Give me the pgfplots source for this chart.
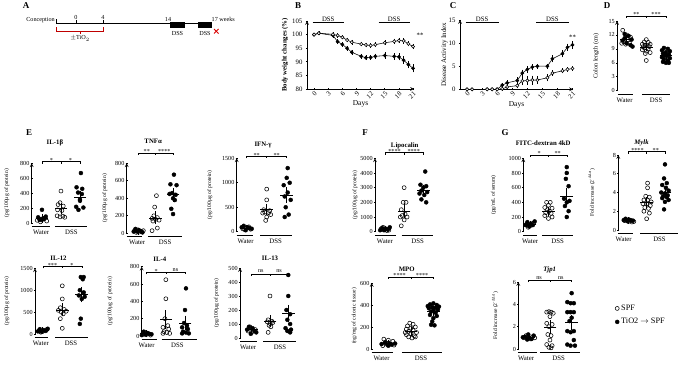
\documentclass[border=0pt]{standalone}
\usepackage{fontspec}
\setmainfont{Liberation Serif}
\usepackage{pgfplots}
\pgfplotsset{compat=1.18}
\newcommand{\Tkf}{\fontsize{6.2}{7}\selectfont}
\newcommand{\Tkb}{\fontsize{6.8}{7.5}\selectfont}
\newcommand{\Lbf}{\fontsize{6.8}{7.5}\selectfont}
\newcommand{\Tif}{\bfseries\fontsize{6.8}{7.5}\selectfont}
\newcommand{\Ylf}{\fontsize{5.6}{6.5}\selectfont}
\newcommand{\Ltf}{\bfseries\fontsize{9}{10}\selectfont}
\newcommand{\Taf}{\fontsize{6.2}{7}\selectfont}
\newcommand{\sg}[1]{\raisebox{-1.8pt}{#1}}
\newcommand{\brk}[3]{%
  \draw[line width=0.5pt] ([yshift=-1.8pt]axis cs:1,#1) -- (axis cs:1,#1) -- (axis cs:3,#1) -- ([yshift=-1.8pt]axis cs:3,#1);
  \draw[line width=0.5pt] (axis cs:2,#1) -- ([yshift=-1.8pt]axis cs:2,#1);
  \node[font=\Tkf, anchor=base, inner sep=0pt] at ([yshift=1.3pt]axis cs:1.5,#1) {#2};
  \node[font=\Tkf, anchor=base, inner sep=0pt] at ([yshift=1.3pt]axis cs:2.5,#1) {#3};}
\newcommand{\grp}[6]{%
  \draw[line width=1pt] ([yshift=-3.5pt]axis cs:#1,0) -- ([yshift=-3.5pt]axis cs:#2,0);
  \draw[line width=1pt] ([yshift=-3.5pt]axis cs:#3,0) -- ([yshift=-3.5pt]axis cs:#4,0);
  \node[font=\Lbf, inner sep=0pt] at ([yshift=-9.5pt]axis cs:#5,0) {Water};
  \node[font=\Lbf, inner sep=0pt] at ([yshift=-9.5pt]axis cs:#6,0) {DSS};}
\newcommand{\ttl}[3]{\node[font=\Tif, inner sep=0pt] at ([yshift=#2]rel axis cs:#1,1) {#3};}
\newcommand{\yl}[2]{\node[rotate=90, font=\Ylf, inner sep=0pt] at ([xshift=-#1]rel axis cs:0,0.5) {#2};}
\pgfplotsset{
 base/.style={scale only axis, clip=false, tick align=outside, major tick length=2.2pt,
   /pgf/number format/assume math mode=true, /pgf/number format/1000 sep={},
   scaled y ticks=false, scaled x ticks=false, tick style={black, line width=0.6pt},
   axis line style={-, line width=0.7pt}, anchor=south west},
 dot/.style={base, axis y line=left, axis x line=none, xtick=\empty, ymin=0,
   yticklabel style={font=\Tkf, inner sep=1pt}},
 spf/.style={only marks, mark=o, mark size=2pt, mark options={black, line width=0.55pt}, forget plot},
 tio/.style={only marks, mark=*, mark size=2pt, mark options={black}, forget plot},
 mn/.style={only marks, mark=-, mark size=6.3pt, mark options={line width=0.7pt}, black, forget plot,
   error bars/.cd, y dir=both, y explicit, error bar style={line width=0.7pt},
   error mark options={mark size=3pt, line width=0.7pt}},
}
\begin{document}
\begin{tikzpicture}
\useasboundingbox (0,0) rectangle (685bp,368bp);
% ---------------- overlay: letters and panel A timeline
\begin{axis}[scale only axis, width=685bp, height=368bp, at={(0,0)}, anchor=south west,
  xmin=0, xmax=685, ymin=0, ymax=368, y dir=reverse, hide axis, clip=false]
\addplot[draw=none, forget plot] coordinates {(0,0) (685,368)};
\node[font=\Ltf] at (axis cs:26,6) {A};
\node[font=\Ltf] at (axis cs:298,6) {B};
\node[font=\Ltf] at (axis cs:453,6) {C};
\node[font=\Ltf] at (axis cs:607,6) {D};
\node[font=\Ltf] at (axis cs:29,133) {E};
\node[font=\Ltf] at (axis cs:365,133) {F};
\node[font=\Ltf] at (axis cs:505,133) {G};
\draw[line width=0.55pt] (axis cs:56,23) -- (axis cs:212,23);
\fill (axis cs:170,22.3) rectangle (axis cs:185,28.3);
\fill (axis cs:198,22.3) rectangle (axis cs:212,28.3);
\draw[line width=0.55pt] (axis cs:56,19.5) -- (axis cs:56,23);
\draw[line width=0.55pt] (axis cs:76,20) -- (axis cs:76,23);
\draw[line width=0.55pt] (axis cs:103,20) -- (axis cs:103,23);
\node[font=\Taf, anchor=east, inner sep=1pt] at (axis cs:56,20.5) {Conception};
\node[font=\Taf, anchor=south, inner sep=0.5pt] at (axis cs:76,20) {0};
\node[font=\Taf, anchor=south, inner sep=0.5pt] at (axis cs:103,20) {4};
\node[font=\Taf, anchor=south, inner sep=0.5pt] at (axis cs:168,22) {14};
\node[font=\Taf, anchor=south west, inner sep=0.5pt] at (axis cs:211,22) {17 weeks};
\node[font=\Taf] at (axis cs:177.5,33) {DSS};
\node[font=\Taf] at (axis cs:205,33) {DSS};
\draw[red!75!black, line width=0.55pt] (axis cs:56,27.5) -- (axis cs:56,31.7) -- (axis cs:103,31.7) -- (axis cs:103,27.5);
\draw[red!75!black, line width=0.55pt] (axis cs:80,31.7) -- (axis cs:80,34);
\node[font=\Taf] at (axis cs:80,38.5) {$\pm$TiO$_2$};
\draw[red!85!black, line width=0.8pt] (axis cs:214,29) -- (axis cs:218.5,33.5);
\draw[red!85!black, line width=0.8pt] (axis cs:214,33.5) -- (axis cs:218.5,29);
\end{axis}
% ---------------- B
\begin{axis}[base, axis lines=left, at={(307bp,279bp)}, width=107bp, height=68bp,
  xmin=-1.5, xmax=21.2, ymin=80, ymax=105, xtick={0,3,...,21}, ytick={80,85,...,105},
  tick label style={font=\Tkb}, xticklabel style={rotate=45, anchor=north east, inner sep=0.5pt},
  xlabel={Days}, xlabel style={font=\fontsize{7.5}{8}\selectfont, inner sep=1pt}]
\addplot[black, line width=0.55pt, mark=*, mark size=1.6pt,
  error bars/.cd, y dir=both, y explicit, error bar style={line width=0.45pt}, error mark options={mark size=1.3pt, line width=0.45pt}]
  table[x=d, y=v, y error=e] {
d v e
0 100 0.2
1 100.5 0.2
4 99.7 0.3
5 97.4 0.4
6 96.4 0.4
7 95.0 0.4
8 93.5 0.4
10 92.0 0.4
11 91.5 0.4
12 91.6 0.4
13 92.0 0.5
15 92.3 0.7
17 92.0 0.7
18 91.8 0.8
19 90.6 0.9
20 89.0 0.9
21 87.6 1.0
};
\addplot[black, line width=0.55pt, mark=*, mark size=1.6pt, mark options={fill=white},
  error bars/.cd, y dir=both, y explicit, error bar style={line width=0.45pt}, error mark options={mark size=1.3pt, line width=0.45pt}]
  table[x=d, y=v, y error=e] {
d v e
0 100 0.2
1 100.5 0.2
4 100.1 0.3
5 99.7 0.3
6 99.0 0.3
7 98.0 0.4
8 97.2 0.4
10 96.5 0.4
11 96.2 0.4
12 96.0 0.4
13 96.3 0.4
15 97.0 0.4
17 97.5 0.5
18 97.8 0.5
19 97.7 0.5
20 96.6 0.5
21 95.6 0.5
};
\draw[line width=1pt] (axis cs:-0.3,104.4) -- (axis cs:6.3,104.4);
\draw[line width=1pt] (axis cs:13.7,104.4) -- (axis cs:20.3,104.4);
\node[font=\Tkb, anchor=south, inner sep=0.5pt] at (axis cs:3,104.4) {DSS};
\node[font=\Tkb, anchor=south, inner sep=0.5pt] at (axis cs:17,104.4) {DSS};
\node[font=\Tkb] at (axis cs:22.5,99.6) {**};
\node[rotate=90, font=\bfseries\fontsize{6.8}{7}\selectfont] at ([xshift=-22pt]rel axis cs:0,0.5) {Body weight changes (\%)};
\end{axis}
% ---------------- C
\begin{axis}[base, axis lines=left, at={(460bp,278.7bp)}, width=113bp, height=69.3bp,
  xmin=-1.4, xmax=21.1, ymin=0, ymax=15, xtick={0,3,...,21}, ytick={0,5,10,15},
  tick label style={font=\Tkb}, xticklabel style={rotate=45, anchor=north east, inner sep=0.5pt},
  xlabel={Days}, xlabel style={font=\fontsize{7.5}{8}\selectfont, inner sep=1pt}]
\addplot[black, line width=0.55pt, mark=*, mark size=1.6pt,
  error bars/.cd, y dir=both, y explicit, error bar style={line width=0.45pt}, error mark options={mark size=1.3pt, line width=0.45pt}]
  table[x=d, y=v, y error=e] {
d v e
0 0 0
1 0 0
4 0 0
5 0 0
6 0 0
7 0.9 0.2
8 1.4 0.3
10 1.9 0.4
11 3.5 0.5
12 4.3 0.4
13 4.8 0.3
14 5.0 0.3
16 5.0 0.3
17 6.6 0.5
19 7.7 0.5
20 9.1 0.5
21 9.6 0.5
};
\addplot[black, line width=0.55pt, mark=*, mark size=1.6pt, mark options={fill=white},
  error bars/.cd, y dir=both, y explicit, error bar style={line width=0.45pt}, error mark options={mark size=1.3pt, line width=0.45pt}]
  table[x=d, y=v, y error=e] {
d v e
0 0 0
1 0 0
4 0 0
5 0 0
6 0 0
7 0.1 0.1
8 0.5 0.2
10 0.8 0.3
11 1.8 0.6
12 1.9 0.7
13 2.0 0.7
14 2.0 0.6
16 2.5 0.5
17 3.5 0.3
19 4.0 0.3
20 4.3 0.2
21 4.5 0.2
};
\draw[line width=1pt] (axis cs:-0.3,14.5) -- (axis cs:6.4,14.5);
\draw[line width=1pt] (axis cs:13.8,14.5) -- (axis cs:20.4,14.5);
\node[font=\Tkb, anchor=south, inner sep=0.5pt] at (axis cs:3,14.5) {DSS};
\node[font=\Tkb, anchor=south, inner sep=0.5pt] at (axis cs:17,14.5) {DSS};
\node[font=\Tkb] at (axis cs:21,11.3) {**};
\node[rotate=90, font=\fontsize{7}{7.5}\selectfont] at ([xshift=-15.5pt]rel axis cs:0,0.5) {Disease Activity Index};
\end{axis}
% ---------------- D
\begin{axis}[dot, at={(617bp,277.3bp)}, width=54.8bp, height=69.7bp, xmin=0.51, xmax=3.3, ymax=15, ytick={0,3,...,15}]
\addplot[spf] coordinates {(0.8,13) (1.0,12) (1.2,11.5) (0.85,10.5) (1.15,10.2) (0.95,10) (1.05,11) (0.75,10.2)};
\addplot[tio] coordinates {(0.9,12.2) (1.1,11.8) (1.25,11) (0.8,10.8) (1.0,10.2) (1.2,9.8) (1.3,9.5) (0.9,11.3)};
\addplot[spf] coordinates {(2.0,11) (1.9,10.5) (2.1,10.4) (1.8,10) (2.2,10) (1.95,9.8) (2.05,9.7) (1.85,9.5) (2.15,9.5) (1.9,9.2) (2.1,9.0) (1.8,8.8) (2.0,8.5) (2.2,8.2) (1.95,8.0) (2.0,6.5)};
\addplot[tio] coordinates {(2.9,9.2) (3.1,9.0) (2.8,8.7) (3.2,8.5) (3.0,8.3) (2.85,8.0) (3.15,7.8) (2.95,7.6) (3.05,7.5) (2.8,7.2) (3.2,7.0) (2.9,6.8) (3.1,6.5) (2.85,6.2) (3.15,6.0) (3.0,6.0)};
\addplot[mn] coordinates {(1,11) +- (0,0.3) (2,9.4) +- (0,0.25) (3,7.5) +- (0,0.25)};
\brk{16.1}{\sg{**}}{\sg{***}}
\grp{0.56}{1.32}{1.78}{3.2}{0.9}{2.5}
\node[rotate=90, font=\fontsize{6.2}{7}\selectfont] at ([xshift=-21pt]rel axis cs:0,0.5) {Colon length (cm)};
\end{axis}
% ---------------- IL-1b
\begin{axis}[dot, at={(31.7bp,144.7bp)}, width=55.3bp, height=60bp, xmin=0.46, xmax=3.37, ymax=800, ytick={0,200,...,800}]
\addplot[spf] coordinates {(0.85,60) (1.0,50) (1.15,70) (0.75,40) (1.25,30) (0.92,20)};
\addplot[tio] coordinates {(1.0,180) (0.8,80) (1.2,90) (1.05,65) (0.9,45) (1.1,55)};
\addplot[spf] coordinates {(2.0,430) (1.95,275) (1.85,250) (2.12,230) (1.82,180) (2.05,170) (1.8,100) (1.95,85) (2.1,95) (2.2,80)};
\addplot[tio] coordinates {(3.05,670) (2.82,480) (3.12,460) (2.9,410) (3.1,390) (3.0,320) (2.8,220) (3.18,210) (2.92,180) (3.0,300)};
\addplot[mn] coordinates {(1,65) +- (0,15) (2,200) +- (0,35) (3,350) +- (0,45)};
\brk{821}{\sg{*}}{\sg{*}}
\grp{0.47}{1.42}{1.68}{3.37}{0.95}{2.55}
\ttl{0.42}{20.6pt}{IL-1β}
\yl{25pt}{(pg/100µg of protein)}
\end{axis}
% ---------------- TNFa
\begin{axis}[dot, at={(126.7bp,134.7bp)}, width=55.1bp, height=70bp, xmin=0.35, xmax=3.5, ymax=800, ytick={0,200,...,800}]
\addplot[spf] coordinates {(0.8,30) (1.0,40) (1.2,20) (0.9,10) (1.1,15) (1.3,30)};
\addplot[tio] coordinates {(0.85,50) (1.05,35) (1.15,25) (0.95,20) (1.25,10) (0.75,20)};
\addplot[spf] coordinates {(2.05,430) (1.95,300) (1.9,200) (2.1,180) (1.8,170) (2.0,160) (2.2,150) (1.85,140) (2.1,60) (1.8,30)};
\addplot[tio] coordinates {(3.05,670) (2.85,560) (3.2,550) (2.95,460) (3.15,440) (2.8,450) (3.0,400) (3.1,380) (2.9,280) (3.0,220)};
\addplot[mn] coordinates {(1,25) +- (0,5) (2,175) +- (0,40) (3,440) +- (0,45)};
\brk{914}{\sg{**}}{\sg{****}}
\grp{0.36}{1.2}{1.57}{3.5}{0.95}{2.55}
\ttl{0.48}{21.6pt}{TNFα}
\yl{22pt}{(pg/100µg of protein)}
\end{axis}
% ---------------- IFN-g
\begin{axis}[dot, at={(236.7bp,136.3bp)}, width=55bp, height=73.4bp, xmin=0.5, xmax=3.25, ymax=1500, ytick={0,500,1000,1500}]
\addplot[spf] coordinates {(0.8,60) (1.0,80) (1.2,50) (0.9,40) (1.1,100)};
\addplot[tio] coordinates {(0.85,120) (1.05,90) (1.15,70) (0.95,30) (1.25,60) (0.75,90)};
\addplot[spf] coordinates {(2.0,870) (2.0,650) (1.85,450) (2.15,430) (1.9,400) (2.1,390) (1.8,380) (2.2,350) (2.0,300) (1.95,230)};
\addplot[tio] coordinates {(3.05,1300) (3.0,1100) (3.15,1000) (2.85,950) (3.05,800) (2.9,720) (3.2,650) (2.95,500) (3.1,350) (2.9,300)};
\addplot[mn] coordinates {(1,75) +- (0,10) (2,450) +- (0,55) (3,750) +- (0,100)};
\brk{1533}{\sg{**}}{\sg{**}}
\grp{0.5}{1.33}{1.67}{3.25}{0.95}{2.45}
\ttl{0.48}{13.3pt}{IFN-γ}
\yl{27pt}{(pg/100µg of protein)}
\end{axis}
% ---------------- Lipocalin
\begin{axis}[dot, at={(375bp,136.3bp)}, width=58.3bp, height=73.4bp, xmin=0.48, xmax=3.52, ymax=5000, ytick={0,1000,...,5000}]
\addplot[spf] coordinates {(0.8,200) (1.0,150) (1.2,100) (0.9,300) (1.1,80)};
\addplot[tio] coordinates {(0.85,250) (1.05,200) (1.15,150) (0.95,100) (1.25,300) (0.75,100)};
\addplot[spf] coordinates {(2.0,3000) (1.95,2000) (2.1,2000) (1.85,1500) (2.05,1200) (1.9,1100) (2.15,1000) (1.8,1000) (2.0,800) (1.85,400)};
\addplot[tio] coordinates {(3.1,4100) (2.85,3200) (3.15,3100) (3.0,3000) (2.9,2800) (3.2,2700) (2.8,2600) (3.05,2500) (2.9,2200) (3.15,2000)};
\addplot[mn] coordinates {(1,180) +- (0,25) (2,1400) +- (0,250) (3,2800) +- (0,200)};
\brk{5380}{\sg{****}}{\sg{****}}
\grp{0.48}{1.6}{1.87}{3.52}{1.0}{2.7}
\ttl{0.51}{12.3pt}{Lipocalin}
\yl{20pt}{(pg/100µg of protein)}
\end{axis}
% ---------------- FITC
\begin{axis}[dot, at={(523.3bp,136.3bp)}, width=49.7bp, height=73.4bp, xmin=0.63, xmax=3.34, ymax=1000, ytick={0,200,...,1000}]
\addplot[spf] coordinates {(0.8,100) (1.0,80) (1.2,120) (0.9,60)};
\addplot[tio] coordinates {(0.85,130) (1.05,110) (1.15,90) (0.95,70) (1.25,140) (0.75,90)};
\addplot[spf] coordinates {(1.9,400) (2.1,400) (2.0,360) (1.8,330) (2.2,320) (1.95,300) (2.05,280) (1.85,260) (2.15,250) (1.8,220) (2.2,200) (2.0,180)};
\addplot[tio] coordinates {(3.0,880) (3.0,800) (2.95,720) (3.1,620) (2.85,450) (3.15,420) (3.0,400) (2.9,350) (3.1,280) (3.0,200)};
\addplot[mn] coordinates {(1,100) +- (0,10) (2,280) +- (0,20) (3,480) +- (0,70)};
\brk{1045}{\sg{*}}{\sg{**}}
\grp{0.63}{1.37}{1.64}{3.34}{1.0}{2.5}
\ttl{0.4}{15pt}{FITC-dextran 4kD}
\yl{30pt}{(pg/mL of serum)}
\end{axis}
% ---------------- Mylk
\begin{axis}[dot, at={(618.3bp,138bp)}, width=59.5bp, height=75bp, xmin=0.455, xmax=3.7, ymax=8, ytick={0,2,...,8}]
\addplot[spf] coordinates {(0.8,1.0) (1.0,0.9) (1.2,0.85) (0.9,1.1) (1.1,1.05) (1.3,0.9)};
\addplot[tio] coordinates {(0.85,1.2) (1.05,1.1) (1.15,1.0) (0.95,0.95) (1.25,1.0) (0.75,1.05)};
\addplot[spf] coordinates {(2.05,5.0) (2.05,4.5) (1.95,3.6) (2.15,3.5) (1.85,3.2) (2.05,3.2) (2.25,3.0) (1.8,2.8) (2.0,2.8) (2.2,2.6) (1.9,2.4) (2.1,2.3) (1.85,2.0) (2.15,1.8) (2.0,1.2)};
\addplot[tio] coordinates {(3.0,7.0) (2.95,5.5) (3.1,5.0) (2.85,4.8) (3.05,4.5) (3.2,4.2) (2.8,4.0) (3.0,3.9) (3.15,3.7) (2.9,3.6) (3.1,3.5) (2.85,3.4) (3.2,3.2) (3.0,3.0) (2.95,2.2)};
\addplot[mn] coordinates {(1,1.0) +- (0,0.05) (2,2.9) +- (0,0.25) (3,4.0) +- (0,0.3)};
\brk{8.35}{\sg{****}}{\sg{**}}
\grp{0.46}{1.26}{1.64}{3.7}{0.75}{2.7}
\ttl{0.39}{11.7pt}{\itshape Mylk}
\yl{26.6pt}{Fold increase (2\textsuperscript{-ΔΔct})}
\end{axis}
% ---------------- IL-12
\begin{axis}[dot, at={(35bp,34bp)}, width=53.4bp, height=65.7bp, xmin=0.6, xmax=3.34, ymax=1500, ytick={0,500,1000,1500}]
\addplot[spf] coordinates {(0.8,80) (1.0,60) (1.2,100) (0.9,40)};
\addplot[tio] coordinates {(0.85,110) (1.05,90) (1.15,70) (0.95,50) (1.25,120) (0.75,60)};
\addplot[spf] coordinates {(2.0,1100) (2.0,800) (1.9,600) (2.1,560) (1.8,540) (2.2,520) (1.95,500) (2.05,460) (1.9,350) (2.0,130)};
\addplot[tio] coordinates {(2.95,1300) (3.1,1300) (3.05,1250) (2.9,1000) (3.1,950) (2.85,880) (3.15,850) (3.0,800) (2.95,350) (2.9,230)};
\addplot[mn] coordinates {(1,80) +- (0,10) (2,550) +- (0,80) (3,900) +- (0,110)};
\brk{1537}{\sg{***}}{\sg{*}}
\grp{0.6}{1.29}{1.63}{3.34}{0.9}{2.45}
\ttl{0.44}{10.5pt}{IL-12}
\yl{28.3pt}{(pg/100µg of protein)}
\end{axis}
% ---------------- IL-4
\begin{axis}[dot, at={(141.7bp,32bp)}, width=55bp, height=69.3bp, xmin=0.74, xmax=3.61, ymax=800, ytick={0,200,...,800}]
\addplot[spf] coordinates {(0.8,30) (1.0,20) (1.2,10) (0.9,40)};
\addplot[tio] coordinates {(0.85,50) (1.05,35) (1.15,25) (0.95,15) (1.25,20) (0.75,10)};
\addplot[spf] coordinates {(2.0,650) (2.0,430) (1.95,200) (2.1,120) (1.85,100) (2.15,80) (1.9,50) (2.05,40) (1.85,30) (2.2,30)};
\addplot[tio] coordinates {(3.05,550) (3.0,300) (2.95,150) (3.1,120) (2.85,100) (3.15,80) (2.9,50) (3.05,40) (2.85,30) (3.2,30)};
\addplot[mn] coordinates {(1,25) +- (0,5) (2,190) +- (0,70) (3,150) +- (0,50)};
\brk{731}{\sg{*}}{ns}
\grp{0.74}{1.52}{1.78}{3.61}{1.0}{2.6}
\ttl{0.33}{7.5pt}{IL-4}
\yl{31.7pt}{(pg/100µg of protein)}
\end{axis}
% ---------------- IL-13
\begin{axis}[dot, at={(240bp,30bp)}, width=55.6bp, height=70bp, xmin=0.36, xmax=3.4, ymax=500, ytick={0,100,...,500}]
\addplot[spf] coordinates {(0.8,50) (1.0,40) (1.2,60) (0.9,80)};
\addplot[tio] coordinates {(0.85,80) (1.05,70) (1.15,50) (0.95,30) (1.25,40) (0.75,60)};
\addplot[spf] coordinates {(2.0,300) (1.9,130) (2.1,120) (1.85,115) (2.15,110) (2.0,105) (1.95,90) (2.05,80) (1.9,40)};
\addplot[tio] coordinates {(3.0,450) (3.0,300) (2.9,200) (3.1,170) (2.95,130) (3.1,100) (2.85,70) (3.15,60) (2.95,50) (3.1,40)};
\addplot[mn] coordinates {(1,60) +- (0,7) (2,120) +- (0,20) (3,175) +- (0,40)};
\brk{457}{ns}{ns}
\grp{0.36}{1.27}{1.63}{3.4}{0.8}{2.55}
\ttl{0.54}{10pt}{IL-13}
\yl{23.5pt}{(pg/100µg of protein)}
\end{axis}
% ---------------- MPO
\begin{axis}[dot, at={(371.7bp,19bp)}, width=70bp, height=66bp, xmin=0.26, xmax=3.37, ymax=600, ytick={0,200,...,600}]
\addplot[spf] coordinates {(0.8,90) (1.0,80) (1.2,70) (0.9,55) (1.1,45) (1.25,35) (0.75,30)};
\addplot[tio] coordinates {(0.85,60) (1.05,50) (1.15,40) (0.95,40) (1.3,50) (0.7,45) (1.0,30)};
\addplot[spf] coordinates {(1.95,235) (2.1,225) (1.85,210) (2.2,200) (2.0,190) (1.8,180) (2.1,170) (1.9,160) (2.25,150) (2.0,140) (1.8,130) (2.15,120) (1.9,110) (2.05,100) (2.2,110) (1.75,150)};
\addplot[tio] coordinates {(3.0,415) (2.85,405) (3.15,400) (2.75,390) (3.25,385) (2.95,380) (3.1,375) (2.8,370) (3.2,360) (3.0,350) (2.9,340) (3.1,330) (2.85,310) (3.15,300) (3.0,280) (2.95,250) (2.9,220) (3.05,215)};
\addplot[mn] coordinates {(1,50) +- (0,5) (2,160) +- (0,12) (3,340) +- (0,15)};
\brk{655}{\sg{****}}{\sg{****}}
\grp{0.26}{1.22}{1.6}{3.37}{0.7}{2.45}
\ttl{0.5}{14pt}{MPO}
\yl{17.5pt}{(ng/mg of colonic tissue)}
\end{axis}
% ---------------- Tjp1
\begin{axis}[dot, at={(518.3bp,19bp)}, width=61.6bp, height=67bp, xmin=0.54, xmax=3.38, ymax=6, ytick={0,2,4,6},
  legend style={at={(1.57,0.69)}, anchor=north west, draw=none, fill=none, font=\fontsize{8.3}{9}\selectfont, row sep=2.5pt, inner sep=0pt},
  legend cell align=left]
\addplot[spf] coordinates {(0.8,1.0) (1.0,0.95) (1.2,1.1) (0.9,1.2) (1.1,0.9) (1.3,1.0)};
\addplot[tio] coordinates {(0.85,1.1) (1.05,1.0) (1.15,0.9) (0.95,0.85) (1.25,1.2) (0.75,1.05) (1.0,1.3)};
\addplot[only marks, mark=o, mark size=2pt, mark options={black, line width=0.55pt}] coordinates {(1.85,3.3) (1.95,3.35) (2.05,3.3) (2.15,3.2) (2.0,2.9) (1.85,2.3) (2.1,2.2) (1.95,2.0) (1.9,1.3) (2.05,1.2) (2.0,0.8) (1.85,0.4) (2.1,0.3) (1.95,0.15) (2.05,0.1)};
\addlegendentry{SPF}
\addplot[only marks, mark=*, mark size=2pt, mark options={black}] coordinates {(3.0,5.0) (2.8,4.2) (2.95,4.1) (3.1,4.1) (2.8,3.3) (2.95,3.3) (3.1,3.3) (3.0,2.8) (2.9,2.5) (3.1,1.6) (2.8,1.6) (2.95,1.5) (3.1,0.8) (2.8,0.4) (2.95,0.3) (3.15,0.3)};
\addlegendentry{TiO2 $\rightarrow$ SPF}
\addplot[mn] coordinates {(1,1.05) +- (0,0.05) (2,1.95) +- (0,0.35) (3,2.4) +- (0,0.4)};
\brk{6.15}{ns}{ns}
\grp{0.54}{1.39}{1.54}{3.38}{0.9}{2.4}
\ttl{0.51}{12.3pt}{\itshape Tjp1}
\yl{23.3pt}{Fold increase (2\textsuperscript{-ΔΔct})}
\end{axis}
\end{tikzpicture}
\end{document}
